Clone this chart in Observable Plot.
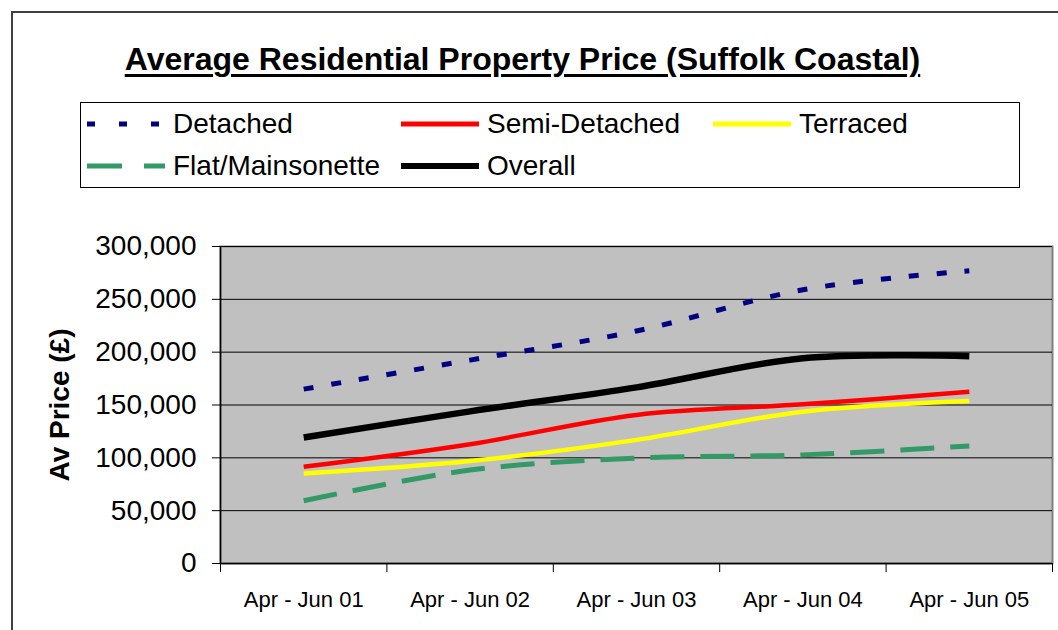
<!DOCTYPE html>
<html><head><meta charset="utf-8">
<script src="https://cdn.jsdelivr.net/npm/d3@7"></script>
<script src="https://cdn.jsdelivr.net/npm/@observablehq/plot@0.6"></script>
<style>
body{margin:0;background:#fff;font-family:"Liberation Sans",Arial,sans-serif;}
#wrap{position:relative;width:1058px;height:630px;overflow:hidden;background:#fff;}
#frame{position:absolute;left:11px;top:11px;width:1100px;height:700px;border:2px solid #404040;}
#title{position:absolute;left:0;width:1045px;top:41px;text-align:center;font-weight:bold;font-size:32px;line-height:36px;text-decoration:underline;text-decoration-thickness:3px;text-underline-offset:4px;color:#000;}
#legend{position:absolute;left:80px;top:102px;width:938px;height:84px;border:1px solid #000;}
.item{position:absolute;height:40px;display:flex;align-items:center;font-size:28px;white-space:nowrap;color:#000;}
.item svg{margin-right:8px;}
#chart{position:absolute;left:0;top:0;}
</style></head>
<body>
<div id="wrap">
  <div id="frame"></div>
  <div id="title">Average Residential Property Price (Suffolk Coastal)</div>
  <div id="legend"></div>
  <div id="chart"></div>
</div>
<script>
const categories = ["Apr - Jun 01","Apr - Jun 02","Apr - Jun 03","Apr - Jun 04","Apr - Jun 05"];
const seriesNames = ["Detached","Semi-Detached","Terraced","Flat/Mainsonette","Overall"];
const detached     = [165000,192500,220000,259100,277000];
const semiDetached = [91500,112900,140600,150600,162500];
const terraced     = [85200,96900,117000,143700,153800];
const flat         = [59400,88400,99700,102800,111300];
const overall      = [119200,144000,166700,194300,196200];
const yTicks = [0,50000,100000,150000,200000,250000,300000];
const yLabel = "Av Price (£)";

const values = [detached, semiDetached, terraced, flat, overall];
const colors = ["#000080","#ff0000","#ffff00","#339966","#000000"];
const widths = [5,4.5,4.5,5,6.5];
const dashes = ["10,18",null,null,"34,16",null];
const legendDashes = ["8,24",null,null,"35,22",null];
const legendPos = [[6,1],[320,1],[632,1],[6,43],[320,43]];

const rows = [];
seriesNames.forEach((s,k)=>values[k].forEach((v,i)=>rows.push({series:s,i,value:v})));

// legend
const legend = document.getElementById("legend");
seriesNames.forEach((s,k)=>{
  const d = document.createElement("div");
  d.className="item";
  d.style.left = legendPos[k][0]+"px";
  d.style.top = legendPos[k][1]+"px";
  const w = 78;
  d.innerHTML = `<svg width="${w}" height="12"><line x1="0" x2="${w}" y1="6" y2="6" stroke="${colors[k]}" stroke-width="${k===4?6:5}" ${legendDashes[k]?`stroke-dasharray="${legendDashes[k]}"`:""}/></svg><span>${s}</span>`;
  legend.appendChild(d);
});

const boundaries = d3.range(-0.5, categories.length, 1);
const idx = d3.range(categories.length);

const chart = Plot.plot({
  width:1058, height:630,
  marginLeft:220, marginRight:6, marginTop:246, marginBottom:67,
  style:{fontFamily:"'Liberation Sans', Arial, sans-serif", background:"transparent", color:"#000", overflow:"visible"},
  x:{type:"linear", domain:[-0.5, categories.length-0.5]},
  y:{domain:[0,300000]},
  marks:[
    Plot.frame({fill:"#c0c0c0", stroke:"#808080", strokeWidth:2}),
    Plot.gridY(yTicks, {stroke:"#000", strokeOpacity:1, strokeWidth:1}),
    Plot.axisY(yTicks, {tickSize:8, tickPadding:16, tickFormat:d3.format(","), fontSize:28, label:null}),
    Plot.axisX(boundaries, {tickSize:9, tickFormat:()=>"", label:null}),
    Plot.axisX(idx, {tickSize:0, tickPadding:28, tickFormat:i=>categories[i], fontSize:22, label:null}),
    Plot.ruleX([-0.5], {stroke:"#000", strokeWidth:1.5}),
    Plot.ruleY([0], {stroke:"#000", strokeWidth:1.5}),
    ...seriesNames.map((s,k)=>Plot.line(rows.filter(r=>r.series===s), {
      x:"i", y:"value", stroke:colors[k], strokeWidth:widths[k],
      strokeDasharray:dashes[k]||undefined, curve:"catmull-rom", strokeLinecap:"butt"
    })),
    Plot.text([yLabel], {frameAnchor:"left", textAnchor:"middle", lineAnchor:"middle", rotate:-90, dx:-160, fontWeight:"bold", fontSize:28, text:d=>d})
  ]
});
document.getElementById("chart").appendChild(chart);
</script>
</body></html>
